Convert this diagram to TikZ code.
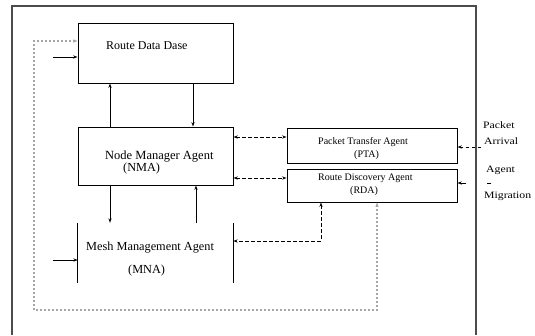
\documentclass[tikz,border=0pt]{standalone}
\usepackage{fontspec}
\setmainfont{Liberation Serif}
\newfontfamily\widefont[FakeStretch=1.2]{Liberation Serif}
\usetikzlibrary{arrows.meta,calc}
\begin{document}
\begin{tikzpicture}[x=1pt,y=-1pt,
  box/.style={draw=black, line width=0.9pt, inner sep=0pt, minimum width=155pt},
  agentbox/.style={draw=black, line width=0.9pt, inner sep=0pt, minimum width=170pt},
  lbl/.style={anchor=base west, inner sep=0pt},
  bigtxt/.style={font=\fontsize{12.3}{14}\selectfont},
  smalltxt/.style={font=\fontsize{10}{12}\selectfont},
  sidetxt/.style={font=\widefont\fontsize{9.8}{12}\selectfont},
  tip/.tip={Stealth[length=4.5pt,width=3.2pt]},
  flow/.style={line width=0.8pt, -tip},
  link/.style={line width=0.9pt, dash pattern=on 3.5pt off 2.5pt, tip-tip},
  loop/.style={line width=1.2pt, draw=black!35, dash pattern=on 2pt off 2pt, tip-tip},
  frameline/.style={line width=1.3pt, draw=black!70}
]
\useasboundingbox (0,0) rectangle (535,335);

% enclosing frame (open at the bottom)
\draw[frameline] (12,335) -- (12,6) -- (476,6) -- (476,335);

% agent boxes
\node[box, minimum height=60pt] (rdb) at (155.5,53) {};
\node[box, minimum height=58pt] (nma) at (155.5,156) {};
\node[inner sep=0pt, minimum width=155pt, minimum height=60pt] (mna) at (155.5,253) {};
\draw[line width=0.9pt] (mna.north west) -- (mna.south west);
\draw[line width=0.9pt] (mna.north east) -- (mna.south east);
\node[agentbox, minimum height=35pt] (pta) at (372,145.5) {};
\node[agentbox, minimum height=33pt] (rda) at (372,185.5) {};

% box labels
\node[lbl, bigtxt, font=\fontsize{12}{14}\selectfont] (rdbname) at (106,49.5) {Route Data Dase};
\node[lbl, bigtxt, font=\fontsize{12.5}{14}\selectfont] (nmaname) at (105,159) {Node Manager Agent};
\node[lbl, bigtxt] (nmaabbr) at (123,171) {(NMA)};
\node[lbl, bigtxt] (mnaname) at (86,250) {Mesh Management Agent};
\node[lbl, bigtxt] (mnaabbr) at (128,273) {(MNA)};
\node[lbl, smalltxt] (ptaname) at (318,144) {Packet Transfer Agent};
\node[lbl, smalltxt] (ptaabbr) at (354,157) {(PTA)};
\node[lbl, smalltxt] (rdaname) at (318,180.5) {Route Discovery Agent};
\node[lbl, smalltxt] (rdaabbr) at (350,193) {(RDA)};

% outside inputs
\node[lbl, sidetxt] (packet) at (483,128) {Packet};
\node[lbl, sidetxt] (arrival) at (484,144.5) {Arrival};
\node[lbl, sidetxt] (agent) at (486,172) {Agent};
\node[lbl, sidetxt] (migration) at (484,198.5) {Migration};

\coordinate (arrsrc) at (481,147);
\coordinate (migsrc) at (491,183);
\coordinate (rdbin) at (53,57);
\coordinate (mnain) at (53,260);

% solid data flows
\draw[flow] (rdbin) -- (rdbin -| rdb.west);
\draw[flow] (mnain) -- (mnain -| mna.west);
\draw[flow] (110,0 |- nma.north) -- (110,0 |- rdb.south);
\draw[flow] (193,0 |- rdb.south) -- (193,0 |- nma.north);
\draw[flow] (110,0 |- nma.south) -- (110,0 |- mna.north);
\draw[flow] (196,0 |- mna.north) -- (196,0 |- nma.south);

% dashed agent links
\draw[link] (nma.east |- 0,137) -- (pta.west |- 0,137);
\draw[link] (nma.east |- 0,178) -- (rda.west |- 0,178);
\draw[link] (321,0 |- rda.south) -- (321,241) -- (mna.east |- 0,241);
\draw[loop] (377,0 |- rda.south) -- (377,310) -- (34,310) -- (34,41) -- (rdb.west |- 0,41);

% arrivals from outside
\draw[line width=0.9pt, dash pattern=on 3.5pt off 2.5pt, -tip] (arrsrc) -- (arrsrc -| pta.east);
\draw[line width=0.8pt, dash pattern=on 4pt off 21pt on 8pt off 20pt, -tip] (migsrc) -- (migsrc -| rda.east);
\end{tikzpicture}
\end{document}
